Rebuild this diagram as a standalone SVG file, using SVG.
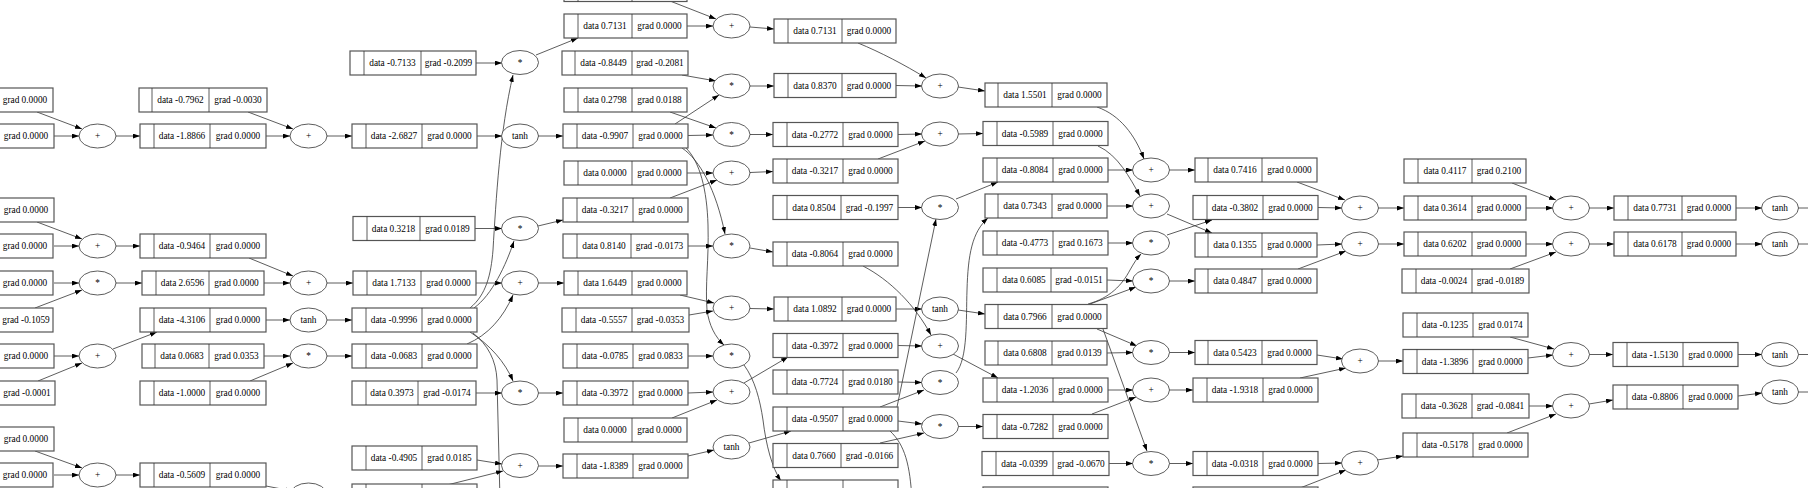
<svg xmlns="http://www.w3.org/2000/svg" width="1808" height="488" viewBox="0 0 1808 488">
<defs>
<style>
.r{fill:#fff;stroke:#555;stroke-width:1.2}
.v{fill:none;stroke:#333;stroke-width:0.8}
.e{fill:#fff;stroke:#333;stroke-width:0.8}
text{font-family:"Liberation Serif","Times New Roman",serif;font-size:9.3px;fill:#000;text-anchor:middle}
#edges path{fill:none;stroke:#333;stroke-width:0.8;marker-end:url(#a)}
#edges path.n{marker-end:none}
</style>
<marker id="a" markerUnits="userSpaceOnUse" markerWidth="8" markerHeight="6" refX="7" refY="2.4" orient="auto"><path d="M0,0 L7,2.4 L0,4.8 z" fill="#000"/></marker>
</defs>
<rect width="1808" height="488" fill="#fff"/>
<g id="edges">
<path d="M37,112 L82,129"/><path d="M54,136 L79,136"/><path d="M37,222 L82,239"/><path d="M54,246 L79,246"/><path d="M54,283 L79,283"/><path d="M35,308 L82,290"/><path d="M54,356 L79,356"/><path d="M38,381 L82,363"/><path d="M35,451 L82,468"/><path d="M54,475 L79,475"/>
<path d="M116,136 L140,136"/><path d="M116,246 L140,246"/><path d="M116,283 L142,283"/><path d="M113,349 L157,332"/><path d="M116,475 L140,475"/>
<path d="M248,112 L293,129"/><path d="M266,136 L290,136"/><path d="M249,258 L293,276"/><path d="M264,283 L290,283"/><path d="M266,320 L290,320"/><path d="M264,356 L290,356"/><path d="M250,381 L293,363"/><path d="M266,486 L292,491"/>
<path d="M327,136 L352,136"/><path d="M327,283 L353,283"/><path d="M327,320 L352,320"/><path d="M327,356 L352,356"/>
<path d="M476,63 L502,63"/><path d="M477,136 L502,136"/><path d="M475,228.5 L502,228.5"/><path d="M476,283 L502,283"/>
<path d="M467,344 C488,335 503,318 513,295"/>
<path d="M470,308 C486,295 491,275 493,250 C496,200 500,130 513,75"/>
<path d="M474,308 C492,295 506,265 514,241"/>
<path d="M470,332 C490,345 505,362 513,381"/>
<path class="n" d="M473,333 C488,345 496,360 497,380 C498,420 499,460 500,500"/>
<path d="M476,393 L502,393"/><path d="M477,460 L502,464"/><path d="M447,485 L503,471"/>
<path d="M536,55 L578,38"/><path d="M538,136 L563,136"/><path d="M538,226 L563,220"/><path d="M538,283 L564,283"/><path d="M538,393 L563,393"/><path d="M538,466 L563,466"/>
<path d="M670,1 L716,19"/><path d="M687,26 L713,26"/><path d="M682,75 L716,81"/><path d="M675,124 L719,95"/><path d="M670,112 L716,128"/><path d="M688,135.5 L713,135"/><path d="M687,173 L713,173"/><path d="M670,198 L717,180"/>
<path d="M682,148 C700,160 716,190 725,234"/>
<path d="M686,148 C700,162 707,190 708,225 C709,260 705,285 707,310 C709,325 715,337 724,345"/>
<path d="M688,246 L713,246"/><path d="M680,295 L714,303"/><path d="M689,315 L713,311"/><path d="M688,356 L713,356"/><path d="M688,393 L713,392"/><path d="M672,418 L717,400"/><path d="M688,456 L714,450"/>
<path d="M750,27 L774,29"/><path d="M750,86 L774,86"/><path d="M750,134.5 L773,134.5"/><path d="M750,172.5 L773,171.5"/><path d="M750,248 L773,252"/><path d="M750,308.5 L774,309"/>
<path d="M744,365 C755,380 760,400 763,420 C766,445 772,468 781,481"/>
<path d="M744,383 L788,357"/><path d="M749,443 L791,431"/>
<path d="M858,43 C880,52 905,65 926,78"/><path d="M896,85.5 L922,86"/><path d="M898,134.5 L922,134"/><path d="M878,159 L925,141"/><path d="M898,207.5 L922,207.5"/>
<path d="M863,266 C890,280 915,305 931,335"/>
<path d="M896,309 L922,309"/><path d="M898,345.5 L922,346"/><path d="M898,382 L922,382.5"/>
<path d="M897,407 L936,219"/><path d="M880,407 L924,390"/><path d="M898,421 L922,424"/>
<path class="n" d="M890,431 C905,445 910,465 912,500"/>
<path d="M880,443 L924,433"/>
<path d="M958,87 L985,91"/><path d="M958,134 L983,133.5"/><path d="M956,199 L998,182"/><path d="M958,310 L985,314"/><path d="M953,354 L998,378"/>
<path d="M956,373 C968,358 966,320 967,290 C968,255 972,232 988,218"/>
<path d="M958,426.5 L983,426.5"/>
<path d="M1097,107 C1120,115 1135,135 1144,159"/><path d="M1108,170 L1133,170"/>
<path d="M1098,146 C1118,155 1130,178 1140,196"/><path d="M1107,206 L1133,206"/><path d="M1108,243 L1133,243"/>
<path d="M1088,304 C1110,298 1122,285 1130,270 C1134,263 1137,258 1141,254"/>
<path d="M1107,280 L1133,281"/><path d="M1090,304 L1136,287"/><path d="M1097,329 L1137,346"/><path d="M1103,329 L1147,451"/><path d="M1107,353 L1133,352.5"/><path d="M1108,390 L1133,390"/><path d="M1092,414 L1136,397"/><path d="M1109,463.5 L1133,463.5"/>
<path d="M1169,170 L1195,170"/><path d="M1167,214 L1212,233"/><path d="M1167,235 L1212,220"/><path d="M1169,281 L1195,281"/><path d="M1169,352.5 L1195,352.5"/><path d="M1169,390 L1193,390"/><path d="M1169,463.5 L1193,463.5"/>
<path d="M1297,182 L1345,200"/><path d="M1318,207.5 L1342,208"/><path d="M1317,245 L1342,244"/><path d="M1298,269 L1346,251"/><path d="M1317,355 L1343,359"/><path d="M1300,378 L1346,368"/><path d="M1318,463.5 L1342,463"/><path d="M1300,488 L1346,470"/>
<path d="M1378,208 L1404,208"/><path d="M1378,244 L1404,244"/><path d="M1378,361 L1403,361"/><path d="M1377,460 L1403,456"/>
<path d="M1512,183 L1556,200"/><path d="M1526,208 L1553,208"/><path d="M1526,244 L1553,244"/><path d="M1510,269 L1556,252"/><path d="M1510,337 L1554,349"/><path d="M1528,358 L1553,355"/><path d="M1529,406 L1553,406"/><path d="M1507,433 L1556,414"/>
<path d="M1589,208 L1614,208"/><path d="M1589,244 L1614,244"/><path d="M1589,354.5 L1613,354.5"/><path d="M1589,404 L1613,400"/>
<path d="M1736,208 L1762,208"/><path d="M1736,244 L1762,244"/><path d="M1738,354.5 L1762,354.5"/><path d="M1738,396 L1762,393"/>
<path class="n" d="M1798,208 L1812,208"/><path class="n" d="M1798,244 L1812,244"/><path class="n" d="M1798,354.5 L1812,354.5"/><path class="n" d="M1798,392 L1812,392"/>
</g>
<g id="nodes">
<g id="a1"><rect class="r" x="-80" y="88" width="133" height="24"/><text x="25" y="103.2">grad 0.0000</text></g>
<g id="a2"><rect class="r" x="-80" y="124" width="134" height="24"/><text x="26" y="139.2">grad 0.0000</text></g>
<g id="a3"><rect class="r" x="-80" y="198" width="134" height="24"/><text x="26" y="213.2">grad 0.0000</text></g>
<g id="a4"><rect class="r" x="-80" y="234" width="133" height="24"/><text x="25" y="249.2">grad 0.0000</text></g>
<g id="a5"><rect class="r" x="-80" y="271" width="133" height="24"/><text x="25" y="286.2">grad 0.0000</text></g>
<g id="a6"><rect class="r" x="-80" y="308" width="133" height="24"/><text x="26" y="323.2">grad -0.1059</text></g>
<g id="a7"><rect class="r" x="-80" y="344" width="134" height="24"/><text x="26" y="359.2">grad 0.0000</text></g>
<g id="a8"><rect class="r" x="-80" y="381" width="135" height="24"/><text x="27" y="396.2">grad -0.0001</text></g>
<g id="a9"><rect class="r" x="-80" y="427" width="134" height="24"/><text x="26" y="442.2">grad 0.0000</text></g>
<g id="a10"><rect class="r" x="-80" y="463" width="133" height="24"/><text x="25" y="478.2">grad 0.0000</text></g>

<g id="b1"><ellipse class="e" cx="97.5" cy="136" rx="18.5" ry="12"/><text x="97.5" y="139.2">+</text></g>
<g id="b2"><ellipse class="e" cx="97.5" cy="246" rx="18.5" ry="12"/><text x="97.5" y="249.2">+</text></g>
<g id="b3"><ellipse class="e" cx="97.5" cy="283" rx="18.5" ry="12"/><text x="97.5" y="286.2">*</text></g>
<g id="b4"><ellipse class="e" cx="97.5" cy="356" rx="18.5" ry="12"/><text x="97.5" y="359.2">+</text></g>
<g id="b5"><ellipse class="e" cx="97.5" cy="475" rx="18.5" ry="12"/><text x="97.5" y="478.2">+</text></g>

<g id="c1"><rect class="r" x="139" y="88" width="128" height="24"/><path class="v" d="M152,88v24M209,88v24"/><text x="180.5" y="103.2">data -0.7962</text><text x="238" y="103.2">grad -0.0030</text></g>
<g id="c2"><rect class="r" x="140" y="124" width="126" height="24"/><path class="v" d="M154,124v24M210,124v24"/><text x="182" y="139.2">data -1.8866</text><text x="238" y="139.2">grad 0.0000</text></g>
<g id="c3"><rect class="r" x="140" y="234" width="126" height="24"/><path class="v" d="M154,234v24M210,234v24"/><text x="182" y="249.2">data -0.9464</text><text x="238" y="249.2">grad 0.0000</text></g>
<g id="c4"><rect class="r" x="142" y="271" width="122" height="24"/><path class="v" d="M156,271v24M209,271v24"/><text x="182.5" y="286.2">data 2.6596</text><text x="236.5" y="286.2">grad 0.0000</text></g>
<g id="c5"><rect class="r" x="140" y="308" width="126" height="24"/><path class="v" d="M154,308v24M210,308v24"/><text x="182" y="323.2">data -4.3106</text><text x="238" y="323.2">grad 0.0000</text></g>
<g id="c6"><rect class="r" x="142" y="344" width="122" height="24"/><path class="v" d="M155,344v24M209,344v24"/><text x="182" y="359.2">data 0.0683</text><text x="236.5" y="359.2">grad 0.0353</text></g>
<g id="c7"><rect class="r" x="140" y="381" width="126" height="24"/><path class="v" d="M154,381v24M210,381v24"/><text x="182" y="396.2">data -1.0000</text><text x="238" y="396.2">grad 0.0000</text></g>
<g id="c8"><rect class="r" x="140" y="463" width="126" height="24"/><path class="v" d="M154,463v24M210,463v24"/><text x="182" y="478.2">data -0.5609</text><text x="238" y="478.2">grad 0.0000</text></g>

<g id="d1"><ellipse class="e" cx="308.5" cy="136" rx="18.5" ry="12"/><text x="308.5" y="139.2">+</text></g>
<g id="d2"><ellipse class="e" cx="308.5" cy="283" rx="18.5" ry="12"/><text x="308.5" y="286.2">+</text></g>
<g id="d3"><ellipse class="e" cx="308.5" cy="320" rx="18.5" ry="12"/><text x="308.5" y="323.2">tanh</text></g>
<g id="d4"><ellipse class="e" cx="308.5" cy="356" rx="18.5" ry="12"/><text x="308.5" y="359.2">*</text></g>
<g id="d5"><ellipse class="e" cx="308.5" cy="495" rx="18.5" ry="12"/></g>

<g id="e1"><rect class="r" x="350" y="51" width="126" height="24"/><path class="v" d="M364,51v24M421,51v24"/><text x="392.5" y="66.2">data -0.7133</text><text x="448.5" y="66.2">grad -0.2099</text></g>
<g id="e2"><rect class="r" x="352" y="124" width="125" height="24"/><path class="v" d="M366,124v24M422,124v24"/><text x="394" y="139.2">data -2.6827</text><text x="449.5" y="139.2">grad 0.0000</text></g>
<g id="e3"><rect class="r" x="353" y="216.5" width="122" height="24"/><path class="v" d="M367,216.5v24M420,216.5v24"/><text x="393.5" y="231.7">data 0.3218</text><text x="447.5" y="231.7">grad 0.0189</text></g>
<g id="e4"><rect class="r" x="353" y="271" width="123" height="24"/><path class="v" d="M367,271v24M421,271v24"/><text x="394" y="286.2">data 1.7133</text><text x="448.5" y="286.2">grad 0.0000</text></g>
<g id="e5"><rect class="r" x="352" y="308" width="125" height="24"/><path class="v" d="M366,308v24M422,308v24"/><text x="394" y="323.2">data -0.9996</text><text x="449.5" y="323.2">grad 0.0000</text></g>
<g id="e6"><rect class="r" x="352" y="344" width="125" height="24"/><path class="v" d="M366,344v24M422,344v24"/><text x="394" y="359.2">data -0.0683</text><text x="449.5" y="359.2">grad 0.0000</text></g>
<g id="e7"><rect class="r" x="352" y="381" width="124" height="24"/><path class="v" d="M366,381v24M418,381v24"/><text x="392" y="396.2">data 0.3973</text><text x="447" y="396.2">grad -0.0174</text></g>
<g id="e8"><rect class="r" x="352" y="446" width="125" height="24"/><path class="v" d="M366,446v24M422,446v24"/><text x="394" y="461.2">data -0.4905</text><text x="449.5" y="461.2">grad 0.0185</text></g>
<g id="e9"><rect class="r" x="352" y="484" width="125" height="24"/><path class="v" d="M366,484v24M422,484v24"/></g>

<g id="f1"><ellipse class="e" cx="520" cy="62.5" rx="18.5" ry="12"/><text x="520" y="65.7">*</text></g>
<g id="f2"><ellipse class="e" cx="520" cy="136" rx="18.5" ry="12"/><text x="520" y="139.2">tanh</text></g>
<g id="f3"><ellipse class="e" cx="520" cy="228.5" rx="18.5" ry="12"/><text x="520" y="231.7">*</text></g>
<g id="f4"><ellipse class="e" cx="520" cy="283" rx="18.5" ry="12"/><text x="520" y="286.2">+</text></g>
<g id="f5"><ellipse class="e" cx="520" cy="393" rx="18.5" ry="12"/><text x="520" y="396.2">*</text></g>
<g id="f6"><ellipse class="e" cx="520" cy="465.5" rx="18.5" ry="12"/><text x="520" y="468.7">+</text></g>

<g id="g0"><rect class="r" x="564" y="-22.5" width="123" height="24"/><path class="v" d="M578,-22.5v24M632,-22.5v24"/></g>
<g id="g1"><rect class="r" x="564" y="14" width="123" height="24"/><path class="v" d="M578,14v24M632,14v24"/><text x="605" y="29.2">data 0.7131</text><text x="659.5" y="29.2">grad 0.0000</text></g>
<g id="g2"><rect class="r" x="562" y="51" width="126" height="24"/><path class="v" d="M575,51v24M632,51v24"/><text x="603.5" y="66.2">data -0.8449</text><text x="660" y="66.2">grad -0.2081</text></g>
<g id="g3"><rect class="r" x="564" y="88" width="123" height="24"/><path class="v" d="M578,88v24M632,88v24"/><text x="605" y="103.2">data 0.2798</text><text x="659.5" y="103.2">grad 0.0188</text></g>
<g id="g4"><rect class="r" x="563" y="124" width="125" height="24"/><path class="v" d="M577,124v24M633,124v24"/><text x="605" y="139.2">data -0.9907</text><text x="660.5" y="139.2">grad 0.0000</text></g>
<g id="g5"><rect class="r" x="564" y="161" width="123" height="24"/><path class="v" d="M578,161v24M632,161v24"/><text x="605" y="176.2">data 0.0000</text><text x="659.5" y="176.2">grad 0.0000</text></g>
<g id="g6"><rect class="r" x="563" y="198" width="125" height="24"/><path class="v" d="M577,198v24M633,198v24"/><text x="605" y="213.2">data -0.3217</text><text x="660.5" y="213.2">grad 0.0000</text></g>
<g id="g7"><rect class="r" x="563" y="234" width="125" height="24"/><path class="v" d="M577,234v24M631,234v24"/><text x="604" y="249.2">data 0.8140</text><text x="659.5" y="249.2">grad -0.0173</text></g>
<g id="g8"><rect class="r" x="564" y="271" width="123" height="24"/><path class="v" d="M578,271v24M632,271v24"/><text x="605" y="286.2">data 1.6449</text><text x="659.5" y="286.2">grad 0.0000</text></g>
<g id="g9"><rect class="r" x="562" y="308" width="127" height="24"/><path class="v" d="M576,308v24M632,308v24"/><text x="604" y="323.2">data -0.5557</text><text x="660.5" y="323.2">grad -0.0353</text></g>
<g id="g10"><rect class="r" x="563" y="344" width="125" height="24"/><path class="v" d="M577,344v24M633,344v24"/><text x="605" y="359.2">data -0.0785</text><text x="660.5" y="359.2">grad 0.0833</text></g>
<g id="g11"><rect class="r" x="563" y="381" width="125" height="24"/><path class="v" d="M577,381v24M633,381v24"/><text x="605" y="396.2">data -0.3972</text><text x="660.5" y="396.2">grad 0.0000</text></g>
<g id="g12"><rect class="r" x="564" y="418" width="123" height="24"/><path class="v" d="M578,418v24M632,418v24"/><text x="605" y="433.2">data 0.0000</text><text x="659.5" y="433.2">grad 0.0000</text></g>
<g id="g13"><rect class="r" x="563" y="454" width="125" height="24"/><path class="v" d="M577,454v24M633,454v24"/><text x="605" y="469.2">data -1.8389</text><text x="660.5" y="469.2">grad 0.0000</text></g>

<g id="h1"><ellipse class="e" cx="731.5" cy="26" rx="18.5" ry="12"/><text x="731.5" y="29.2">+</text></g>
<g id="h2"><ellipse class="e" cx="731.5" cy="86" rx="18.5" ry="12"/><text x="731.5" y="89.2">*</text></g>
<g id="h3"><ellipse class="e" cx="731.5" cy="134.5" rx="18.5" ry="12"/><text x="731.5" y="137.7">*</text></g>
<g id="h4"><ellipse class="e" cx="731.5" cy="173" rx="18.5" ry="12"/><text x="731.5" y="176.2">+</text></g>
<g id="h5"><ellipse class="e" cx="731.5" cy="246" rx="18.5" ry="12"/><text x="731.5" y="249.2">*</text></g>
<g id="h6"><ellipse class="e" cx="731.5" cy="308" rx="18.5" ry="12"/><text x="731.5" y="311.2">+</text></g>
<g id="h7"><ellipse class="e" cx="731.5" cy="356" rx="18.5" ry="12"/><text x="731.5" y="359.2">*</text></g>
<g id="h8"><ellipse class="e" cx="731.5" cy="392" rx="18.5" ry="12"/><text x="731.5" y="395.2">+</text></g>
<g id="h9"><ellipse class="e" cx="731.5" cy="447" rx="18.5" ry="12"/><text x="731.5" y="450.2">tanh</text></g>

<g id="i1"><rect class="r" x="774" y="19" width="122" height="24"/><path class="v" d="M788,19v24M842,19v24"/><text x="815" y="34.2">data 0.7131</text><text x="869" y="34.2">grad 0.0000</text></g>
<g id="i2"><rect class="r" x="774" y="73.5" width="122" height="24"/><path class="v" d="M788,73.5v24M842,73.5v24"/><text x="815" y="88.7">data 0.8370</text><text x="869" y="88.7">grad 0.0000</text></g>
<g id="i3"><rect class="r" x="773" y="122.5" width="125" height="24"/><path class="v" d="M787,122.5v24M843,122.5v24"/><text x="815" y="137.7">data -0.2772</text><text x="870.5" y="137.7">grad 0.0000</text></g>
<g id="i4"><rect class="r" x="773" y="159" width="125" height="24"/><path class="v" d="M787,159v24M843,159v24"/><text x="815" y="174.2">data -0.3217</text><text x="870.5" y="174.2">grad 0.0000</text></g>
<g id="i5"><rect class="r" x="773" y="195.5" width="125" height="24"/><path class="v" d="M787,195.5v24M841,195.5v24"/><text x="814" y="210.7">data 0.8504</text><text x="869.5" y="210.7">grad -0.1997</text></g>
<g id="i6"><rect class="r" x="773" y="242" width="125" height="24"/><path class="v" d="M787,242v24M843,242v24"/><text x="815" y="257.2">data -0.8064</text><text x="870.5" y="257.2">grad 0.0000</text></g>
<g id="i7"><rect class="r" x="774" y="297" width="122" height="24"/><path class="v" d="M788,297v24M842,297v24"/><text x="815" y="312.2">data 1.0892</text><text x="869" y="312.2">grad 0.0000</text></g>
<g id="i8"><rect class="r" x="773" y="333.5" width="125" height="24"/><path class="v" d="M787,333.5v24M843,333.5v24"/><text x="815" y="348.7">data -0.3972</text><text x="870.5" y="348.7">grad 0.0000</text></g>
<g id="i9"><rect class="r" x="773" y="370" width="125" height="24"/><path class="v" d="M787,370v24M843,370v24"/><text x="815" y="385.2">data -0.7724</text><text x="870.5" y="385.2">grad 0.0180</text></g>
<g id="i10"><rect class="r" x="773" y="407" width="125" height="24"/><path class="v" d="M787,407v24M843,407v24"/><text x="815" y="422.2">data -0.9507</text><text x="870.5" y="422.2">grad 0.0000</text></g>
<g id="i11"><rect class="r" x="773" y="443.5" width="125" height="24"/><path class="v" d="M787,443.5v24M841,443.5v24"/><text x="814" y="458.7">data 0.7660</text><text x="869.5" y="458.7">grad -0.0166</text></g>
<g id="i12"><rect class="r" x="773" y="480" width="125" height="24"/><path class="v" d="M787,480v24M843,480v24"/></g>

<g id="j1"><ellipse class="e" cx="940" cy="86" rx="18.5" ry="12"/><text x="940" y="89.2">+</text></g>
<g id="j2"><ellipse class="e" cx="940" cy="134" rx="18.5" ry="12"/><text x="940" y="137.2">+</text></g>
<g id="j3"><ellipse class="e" cx="940" cy="207.5" rx="18.5" ry="12"/><text x="940" y="210.7">*</text></g>
<g id="j4"><ellipse class="e" cx="940" cy="309" rx="18.5" ry="12"/><text x="940" y="312.2">tanh</text></g>
<g id="j5"><ellipse class="e" cx="940" cy="346" rx="18.5" ry="12"/><text x="940" y="349.2">+</text></g>
<g id="j6"><ellipse class="e" cx="940" cy="382.5" rx="18.5" ry="12"/><text x="940" y="385.7">*</text></g>
<g id="j7"><ellipse class="e" cx="940" cy="426.5" rx="18.5" ry="12"/><text x="940" y="429.7">*</text></g>

<g id="k1"><rect class="r" x="985" y="83" width="122" height="24"/><path class="v" d="M998,83v24M1052,83v24"/><text x="1025" y="98.2">data 1.5501</text><text x="1079.5" y="98.2">grad 0.0000</text></g>
<g id="k2"><rect class="r" x="983" y="121.5" width="125" height="24"/><path class="v" d="M997,121.5v24M1053,121.5v24"/><text x="1025" y="136.7">data -0.5989</text><text x="1080.5" y="136.7">grad 0.0000</text></g>
<g id="k3"><rect class="r" x="983" y="158" width="125" height="24"/><path class="v" d="M997,158v24M1053,158v24"/><text x="1025" y="173.2">data -0.8084</text><text x="1080.5" y="173.2">grad 0.0000</text></g>
<g id="k4"><rect class="r" x="985" y="194" width="122" height="24"/><path class="v" d="M998,194v24M1052,194v24"/><text x="1025" y="209.2">data 0.7343</text><text x="1079.5" y="209.2">grad 0.0000</text></g>
<g id="k5"><rect class="r" x="983" y="231" width="125" height="24"/><path class="v" d="M997,231v24M1053,231v24"/><text x="1025" y="246.2">data -0.4773</text><text x="1080.5" y="246.2">grad 0.1673</text></g>
<g id="k6"><rect class="r" x="983" y="268" width="124" height="24"/><path class="v" d="M997,268v24M1051,268v24"/><text x="1024" y="283.2">data 0.6085</text><text x="1079" y="283.2">grad -0.0151</text></g>
<g id="k7"><rect class="r" x="985" y="304.5" width="122" height="24"/><path class="v" d="M998,304.5v24M1052,304.5v24"/><text x="1025" y="319.7">data 0.7966</text><text x="1079.5" y="319.7">grad 0.0000</text></g>
<g id="k8"><rect class="r" x="985" y="341" width="122" height="24"/><path class="v" d="M998,341v24M1052,341v24"/><text x="1025" y="356.2">data 0.6808</text><text x="1079.5" y="356.2">grad 0.0139</text></g>
<g id="k9"><rect class="r" x="983" y="378" width="125" height="24"/><path class="v" d="M997,378v24M1053,378v24"/><text x="1025" y="393.2">data -1.2036</text><text x="1080.5" y="393.2">grad 0.0000</text></g>
<g id="k10"><rect class="r" x="983" y="414.5" width="125" height="24"/><path class="v" d="M997,414.5v24M1053,414.5v24"/><text x="1025" y="429.7">data -0.7282</text><text x="1080.5" y="429.7">grad 0.0000</text></g>
<g id="k11"><rect class="r" x="982" y="451.5" width="127" height="24"/><path class="v" d="M996,451.5v24M1053,451.5v24"/><text x="1024.5" y="466.7">data -0.0399</text><text x="1081" y="466.7">grad -0.0670</text></g>
<g id="k12"><rect class="r" x="983" y="487" width="125" height="24"/></g>

<g id="l1"><ellipse class="e" cx="1151" cy="170" rx="18.5" ry="12"/><text x="1151" y="173.2">+</text></g>
<g id="l2"><ellipse class="e" cx="1151" cy="206" rx="18.5" ry="12"/><text x="1151" y="209.2">+</text></g>
<g id="l3"><ellipse class="e" cx="1151" cy="243" rx="18.5" ry="12"/><text x="1151" y="246.2">*</text></g>
<g id="l4"><ellipse class="e" cx="1151" cy="281" rx="18.5" ry="12"/><text x="1151" y="284.2">*</text></g>
<g id="l5"><ellipse class="e" cx="1151" cy="352.5" rx="18.5" ry="12"/><text x="1151" y="355.7">*</text></g>
<g id="l6"><ellipse class="e" cx="1151" cy="390" rx="18.5" ry="12"/><text x="1151" y="393.2">+</text></g>
<g id="l7"><ellipse class="e" cx="1151" cy="463.5" rx="18.5" ry="12"/><text x="1151" y="466.7">*</text></g>

<g id="m1"><rect class="r" x="1195" y="158" width="122" height="24"/><path class="v" d="M1208,158v24M1262,158v24"/><text x="1235" y="173.2">data 0.7416</text><text x="1289.5" y="173.2">grad 0.0000</text></g>
<g id="m2"><rect class="r" x="1193" y="195.5" width="125" height="24"/><path class="v" d="M1207,195.5v24M1263,195.5v24"/><text x="1235" y="210.7">data -0.3802</text><text x="1290.5" y="210.7">grad 0.0000</text></g>
<g id="m3"><rect class="r" x="1195" y="233" width="122" height="24"/><path class="v" d="M1208,233v24M1262,233v24"/><text x="1235" y="248.2">data 0.1355</text><text x="1289.5" y="248.2">grad 0.0000</text></g>
<g id="m4"><rect class="r" x="1195" y="269" width="122" height="24"/><path class="v" d="M1208,269v24M1262,269v24"/><text x="1235" y="284.2">data 0.4847</text><text x="1289.5" y="284.2">grad 0.0000</text></g>
<g id="m5"><rect class="r" x="1195" y="340.5" width="122" height="24"/><path class="v" d="M1208,340.5v24M1262,340.5v24"/><text x="1235" y="355.7">data 0.5423</text><text x="1289.5" y="355.7">grad 0.0000</text></g>
<g id="m6"><rect class="r" x="1193" y="378" width="125" height="24"/><path class="v" d="M1207,378v24M1263,378v24"/><text x="1235" y="393.2">data -1.9318</text><text x="1290.5" y="393.2">grad 0.0000</text></g>
<g id="m7"><rect class="r" x="1193" y="451.5" width="125" height="24"/><path class="v" d="M1207,451.5v24M1263,451.5v24"/><text x="1235" y="466.7">data -0.0318</text><text x="1290.5" y="466.7">grad 0.0000</text></g>
<g id="m8"><rect class="r" x="1193" y="487" width="125" height="24"/></g>

<g id="n1"><ellipse class="e" cx="1360" cy="208" rx="18.5" ry="12"/><text x="1360" y="211.2">+</text></g>
<g id="n2"><ellipse class="e" cx="1360" cy="244" rx="18.5" ry="12"/><text x="1360" y="247.2">+</text></g>
<g id="n3"><ellipse class="e" cx="1360" cy="361" rx="18.5" ry="12"/><text x="1360" y="364.2">+</text></g>
<g id="n4"><ellipse class="e" cx="1360" cy="463" rx="18.5" ry="12"/><text x="1360" y="466.2">+</text></g>

<g id="o1"><rect class="r" x="1404" y="159" width="122" height="24"/><path class="v" d="M1418,159v24M1472,159v24"/><text x="1445" y="174.2">data 0.4117</text><text x="1499" y="174.2">grad 0.2100</text></g>
<g id="o2"><rect class="r" x="1404" y="196" width="122" height="24"/><path class="v" d="M1418,196v24M1472,196v24"/><text x="1445" y="211.2">data 0.3614</text><text x="1499" y="211.2">grad 0.0000</text></g>
<g id="o3"><rect class="r" x="1404" y="232" width="122" height="24"/><path class="v" d="M1418,232v24M1472,232v24"/><text x="1445" y="247.2">data 0.6202</text><text x="1499" y="247.2">grad 0.0000</text></g>
<g id="o4"><rect class="r" x="1402" y="269" width="127" height="24"/><path class="v" d="M1416,269v24M1472,269v24"/><text x="1444" y="284.2">data -0.0024</text><text x="1500.5" y="284.2">grad -0.0189</text></g>
<g id="o5"><rect class="r" x="1403" y="313" width="125" height="24"/><path class="v" d="M1417,313v24M1473,313v24"/><text x="1445" y="328.2">data -0.1235</text><text x="1500.5" y="328.2">grad 0.0174</text></g>
<g id="o6"><rect class="r" x="1403" y="349.5" width="125" height="24"/><path class="v" d="M1417,349.5v24M1473,349.5v24"/><text x="1445" y="364.7">data -1.3896</text><text x="1500.5" y="364.7">grad 0.0000</text></g>
<g id="o7"><rect class="r" x="1402" y="394" width="127" height="24"/><path class="v" d="M1416,394v24M1472,394v24"/><text x="1444" y="409.2">data -0.3628</text><text x="1500.5" y="409.2">grad -0.0841</text></g>
<g id="o8"><rect class="r" x="1403" y="433" width="125" height="24"/><path class="v" d="M1417,433v24M1473,433v24"/><text x="1445" y="448.2">data -0.5178</text><text x="1500.5" y="448.2">grad 0.0000</text></g>

<g id="p1"><ellipse class="e" cx="1571" cy="208" rx="18.5" ry="12"/><text x="1571" y="211.2">+</text></g>
<g id="p2"><ellipse class="e" cx="1571" cy="244" rx="18.5" ry="12"/><text x="1571" y="247.2">+</text></g>
<g id="p3"><ellipse class="e" cx="1571" cy="354.5" rx="18.5" ry="12"/><text x="1571" y="357.7">+</text></g>
<g id="p4"><ellipse class="e" cx="1571" cy="406" rx="18.5" ry="12"/><text x="1571" y="409.2">+</text></g>

<g id="q1"><rect class="r" x="1614" y="196" width="122" height="24"/><path class="v" d="M1628,196v24M1682,196v24"/><text x="1655" y="211.2">data 0.7731</text><text x="1709" y="211.2">grad 0.0000</text></g>
<g id="q2"><rect class="r" x="1614" y="232" width="122" height="24"/><path class="v" d="M1628,232v24M1682,232v24"/><text x="1655" y="247.2">data 0.6178</text><text x="1709" y="247.2">grad 0.0000</text></g>
<g id="q3"><rect class="r" x="1613" y="342.5" width="125" height="24"/><path class="v" d="M1627,342.5v24M1683,342.5v24"/><text x="1655" y="357.7">data -1.5130</text><text x="1710.5" y="357.7">grad 0.0000</text></g>
<g id="q4"><rect class="r" x="1613" y="385" width="125" height="24"/><path class="v" d="M1627,385v24M1683,385v24"/><text x="1655" y="400.2">data -0.8806</text><text x="1710.5" y="400.2">grad 0.0000</text></g>

<g id="r1"><ellipse class="e" cx="1780" cy="208" rx="18.5" ry="12"/><text x="1780" y="211.2">tanh</text></g>
<g id="r2"><ellipse class="e" cx="1780" cy="244" rx="18.5" ry="12"/><text x="1780" y="247.2">tanh</text></g>
<g id="r3"><ellipse class="e" cx="1780" cy="354.5" rx="18.5" ry="12"/><text x="1780" y="357.7">tanh</text></g>
<g id="r4"><ellipse class="e" cx="1780" cy="392" rx="18.5" ry="12"/><text x="1780" y="395.2">tanh</text></g>
</g>
</svg>
